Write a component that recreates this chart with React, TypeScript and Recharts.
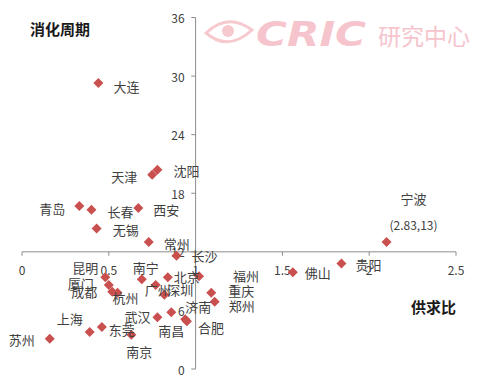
import React from 'react';
import {
  ScatterChart, Scatter, XAxis, YAxis, ReferenceLine, ReferenceDot, LabelList,
} from 'recharts';

// 城市 / 供求比 / 消化周期
const cities = [
  '大连', '天津', '沈阳', '青岛', '长春', '西安', '无锡', '常州', '长沙', '北京',
  '福州', '南宁', '昆明', '厦门', '成都', '杭州', '广州', '深圳', '济南', '重庆',
  '郑州', '武汉', '南昌', '合肥', '上海', '东莞', '南京', '苏州', '佛山', '贵阳', '宁波',
];
const supplyRatio = [
  0.44, 0.75, 0.78, 0.33, 0.40, 0.67, 0.43, 0.73, 0.89, 0.84,
  1.02, 0.69, 0.48, 0.50, 0.52, 0.55, 0.77, 0.82, 0.94, 1.09,
  1.11, 0.78, 0.86, 0.95, 0.39, 0.46, 0.63, 0.16, 1.56, 1.84, 2.10,
];
const digestion = [
  29.3, 19.9, 20.4, 16.7, 16.3, 16.5, 14.4, 13.0, 11.6, 9.4,
  9.5, 9.2, 9.4, 8.6, 7.9, 7.8, 8.6, 7.6, 5.1, 7.8,
  6.9, 5.3, 5.8, 4.9, 3.8, 4.3, 3.5, 3.1, 9.9, 10.8, 13.0,
];
const xTicks = [0, 0.5, 1, 1.5, 2, 2.5];
const yTicks = [0, 6, 12, 18, 24, 30, 36];
const ningboNote = '(2.83,13)';

const data = cities.map((name, i) => ({ name, x: supplyRatio[i], y: digestion[i] }));

// label centre offset from its point, px
const LABEL_OFFSET: Record<string, [number, number]> = {
  大连: [28, 4], 天津: [-28, 2], 沈阳: [29, 1], 青岛: [-27, 3], 长春: [29, 2],
  西安: [28, 2], 无锡: [29, 1], 常州: [28, 1], 长沙: [28, 0], 北京: [19, -1],
  福州: [47, -1], 南宁: [4, -12], 昆明: [-20, -10], 厦门: [-28, -2], 成都: [-28, 0],
  杭州: [8, 5], 广州: [2, 4], 深圳: [16, -5], 济南: [13, -13], 重庆: [30, -2],
  郑州: [27, 4], 武汉: [-20, -1], 南昌: [0, 18], 合肥: [24, 6], 上海: [-20, -13],
  东莞: [20, 2], 南京: [8, 17], 苏州: [-28, 1], 佛山: [25, 0], 贵阳: [27, 1],
  宁波: [27, -44],
};

const AXIS = '#8c8c8c';
const TEXT = '#404040';
const RED = '#c9504e';
const FONT = '"Noto Sans CJK SC", "Noto Sans", sans-serif';

const Diamond = (p: any) => {
  const { cx, cy } = p;
  const r = 5;
  return <path d={`M${cx},${cy - r}L${cx + r},${cy}L${cx},${cy + r}L${cx - r},${cy}Z`} fill={RED} />;
};

const CityLabel = (p: any) => {
  const { x, y, width, height, value } = p;
  const cx = x + width / 2;
  const cy = y + height / 2;
  const [dx, dy] = LABEL_OFFSET[value] || [24, 0];
  return (
    <g>
      <text x={cx + dx} y={cy + dy} textAnchor="middle" dominantBaseline="central"
        fontSize={13} fontFamily={FONT} fill={TEXT}>{value}</text>
      {value === '宁波' && (
        <text x={cx + dx} y={cy + dy + 26} textAnchor="middle" dominantBaseline="central"
          fontSize={12} fontFamily={FONT} fill={TEXT}>{ningboNote}</text>
      )}
    </g>
  );
};

export default function App() {
  return (
    <div style={{ position: 'absolute', left: 0, top: 0, width: 484, height: 381, background: '#fff' }}>
      <svg width={484} height={381} style={{ position: 'absolute', left: 0, top: 0 }}>
        <g fill="none" stroke="#f6c9cf" strokeWidth={3}>
          <path d="M206,33 Q228,12 252,30 Q228,52 206,33 Z" />
        </g>
        <circle cx={228} cy={31} r={6} fill="#f6c9cf" />
        <text x={256} y={46} fontSize={34} fontStyle="italic" fontWeight={900}
          fontFamily='"DejaVu Sans", sans-serif' fill="#f6c4cc"
          textLength={110} lengthAdjust="spacingAndGlyphs">CRIC</text>
        <text x={378} y={45} fontSize={23} fontFamily={FONT} fill="#f6c4cc">研究中心</text>
        <text x={30} y={35} fontSize={15} fontWeight={700} fontFamily={FONT} fill="#1a1a1a">消化周期</text>
        <text x={411} y={313} fontSize={15} fontWeight={700} fontFamily={FONT} fill="#1a1a1a">供求比</text>
      </svg>
      <div style={{ position: 'absolute', left: 0, top: 0 }}>
        <ScatterChart width={484} height={381} margin={{ top: 17.5, right: 28, bottom: 12, left: 22 }}>
          <XAxis type="number" dataKey="x" domain={[0, 2.5]} hide />
          <YAxis type="number" dataKey="y" domain={[0, 36]} hide />
          <ReferenceLine y={12} stroke={AXIS} strokeWidth={1} />
          <ReferenceLine x={1} stroke={AXIS} strokeWidth={1} />
          {xTicks.map(v => (
            <ReferenceLine key={'xt' + v} segment={[{ x: v, y: 12 }, { x: v, y: 11.6 }]} stroke={AXIS} />
          ))}
          {yTicks.map(v => (
            <ReferenceLine key={'yt' + v} segment={[{ x: 1, y: v }, { x: 0.975, y: v }]} stroke={AXIS} />
          ))}
          {xTicks.map(v => (
            <ReferenceDot key={'xl' + v} x={v} y={12} r={0} fill="none" stroke="none"
              label={(p: any) => (
                <text x={p.viewBox.x} y={p.viewBox.y + 18} textAnchor="middle" dominantBaseline="central"
                  fontSize={12} fontFamily={FONT} fill={TEXT}>{v}</text>
              )} />
          ))}
          {yTicks.map(v => (
            <ReferenceDot key={'yl' + v} x={1} y={v} r={0} fill="none" stroke="none"
              label={(p: any) => (
                <text x={p.viewBox.x - 11} y={p.viewBox.y} textAnchor="end" dominantBaseline="central"
                  fontSize={12} fontFamily={FONT} fill={TEXT}>{v}</text>
              )} />
          ))}
          <Scatter data={data} shape={Diamond} isAnimationActive={false}>
            <LabelList dataKey="name" content={CityLabel} />
          </Scatter>
        </ScatterChart>
      </div>
    </div>
  );
}
